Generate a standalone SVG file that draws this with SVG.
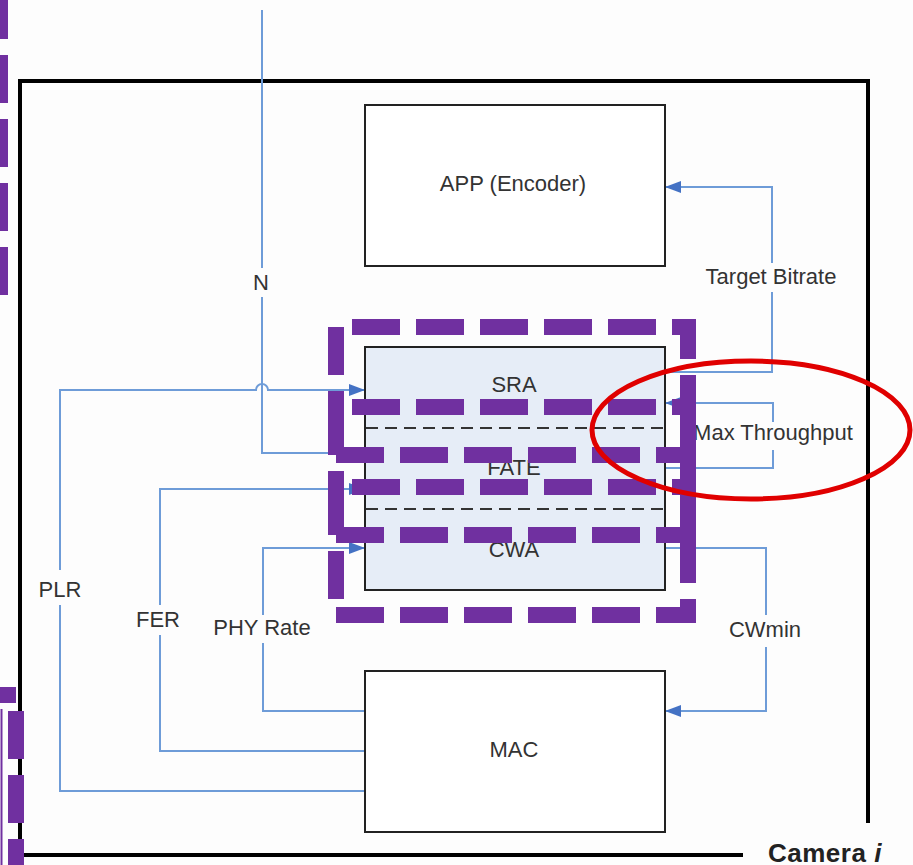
<svg xmlns="http://www.w3.org/2000/svg" width="913" height="865" viewBox="0 0 913 865">
<defs>
<style>
.box{fill:#ffffff;stroke:#222;stroke-width:2}
.lbl{font-family:"Liberation Sans",Arial,sans-serif;font-size:22px;fill:#333;text-anchor:middle}
.con{fill:none;stroke:#6E9CD8;stroke-width:2}
.sep{stroke:#333;stroke-width:1.8;stroke-dasharray:12 7}
.pur{fill:none;stroke:#7030A0;stroke-width:16;stroke-dasharray:48 16;stroke-dashoffset:48}
</style>
<marker id="ah" viewBox="0 0 16 12" refX="16" refY="6" markerWidth="16" markerHeight="12" markerUnits="userSpaceOnUse" orient="auto">
<path d="M0,0 L16,6 L0,12 z" fill="#4472C4"/>
</marker>
</defs>
<rect width="913" height="865" fill="#fdfdfd"/>

<g id="frame" fill="none" stroke="#000" stroke-width="4">
<path d="M20,855 V81 H868 V823"/>
<path d="M20,855 H743"/>
</g>
<text x="768" y="862" font-family="Liberation Sans,Arial,sans-serif" font-size="26" font-weight="bold" fill="#222" letter-spacing="0.5">Camera <tspan font-style="italic">i</tspan></text>

<g id="connectors">
<path class="con" d="M262,10 V268 M262,297 V453 H365" marker-end="url(#ah)"/>
<path class="con" d="M365,791 H60 V605 M60,570 V390 H256 a6,6 0 0 1 12,0 H365" marker-end="url(#ah)"/>
<path class="con" d="M365,751 H160 V635 M160,605 V489 H365" marker-end="url(#ah)"/>
<path class="con" d="M365,711 H263 V643 M263,615 V548 H365" marker-end="url(#ah)"/>
<path class="con" d="M665,372 H772 V292 M772,263 V187 H665" marker-end="url(#ah)"/>
<path class="con" d="M665,468 H773 V450 M773,422 V403 H665" marker-end="url(#ah)"/>
<path class="con" d="M665,548 H766 V615 M766,647 V711 H665" marker-end="url(#ah)"/>
<text class="lbl" x="261" y="290">N</text>
<text class="lbl" x="60" y="597">PLR</text>
<text class="lbl" x="158" y="627">FER</text>
<text class="lbl" x="262" y="635">PHY Rate</text>
<text class="lbl" x="771" y="284">Target Bitrate</text>
<text class="lbl" x="773" y="440">Max Throughput</text>
<text class="lbl" x="765" y="637">CWmin</text>
</g>

<g id="app">
<rect class="box" x="365" y="105" width="300" height="161"/>
<text class="lbl" x="513" y="191">APP (Encoder)</text>
</g>

<g id="controller">
<rect x="365" y="347" width="300" height="243" fill="#E6EDF7" stroke="#222" stroke-width="2"/>
<line class="sep" x1="366" y1="428" x2="664" y2="428"/>
<line class="sep" x1="366" y1="509" x2="664" y2="509"/>
<text class="lbl" x="514" y="392">SRA</text>
<text class="lbl" x="514" y="475">FATE</text>
<text class="lbl" x="514" y="557">CWA</text>
</g>

<g id="mac">
<rect class="box" x="365" y="671" width="300" height="161"/>
<text class="lbl" x="514" y="757">MAC</text>
</g>

<g id="highlights">
<path class="pur" d="M336,327 H688 V455 H336 Z"/>
<path class="pur" d="M336,407 H688 V535 H336 Z"/>
<path class="pur" d="M336,487 H688 V615 H336 Z"/>
<line x1="4" y1="-9" x2="4" y2="300" stroke="#7030A0" stroke-width="8" stroke-dasharray="48 16"/>
<line x1="0" y1="695" x2="16" y2="695" stroke="#7030A0" stroke-width="16"/>
<line x1="16" y1="711" x2="16" y2="865" stroke="#7030A0" stroke-width="16" stroke-dasharray="48 16"/>
<line x1="1.5" y1="709" x2="1.5" y2="865" stroke="#7030A0" stroke-width="2"/>
<ellipse cx="751" cy="430" rx="159" ry="69" fill="none" stroke="#E00000" stroke-width="5"/>
</g>
</svg>
